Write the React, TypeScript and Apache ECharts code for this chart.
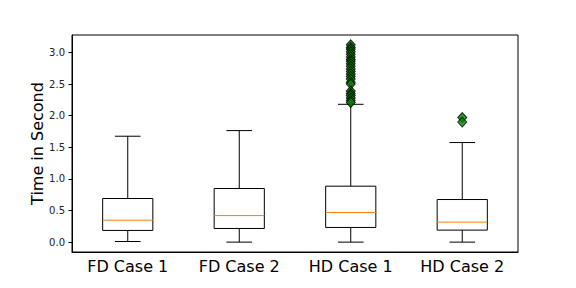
import React, { useEffect, useRef } from "react";
import * as echarts from "echarts";

const categories = ["FD Case 1", "FD Case 2", "HD Case 1", "HD Case 2"];
const whiskerLow = [0.01, 0.0, 0.0, 0.0];
const quartile1 = [0.185, 0.216, 0.232, 0.19];
const medians = [0.347, 0.42, 0.469, 0.316];
const quartile3 = [0.69, 0.848, 0.885, 0.674];
const whiskerHigh = [1.675, 1.764, 2.18, 1.575];
const outliersHD1 = [
  3.12, 3.08, 3.05, 3.01, 2.97, 2.93, 2.89, 2.86, 2.82, 2.78, 2.74, 2.7, 2.66,
  2.62, 2.58, 2.53, 2.5, 2.39, 2.35, 2.32, 2.28, 2.24, 2.21,
];
const outliersHD2 = [1.97, 1.9];
const yTicks = [0, 0.5, 1.0, 1.5, 2.0, 2.5, 3.0];

export default function App() {
  const ref = useRef<HTMLDivElement>(null);
  useEffect(() => {
    if (!ref.current) return;
    const chart = echarts.init(ref.current, undefined, { renderer: "svg" });
    const boxData = categories.map((_, i) => [
      i,
      whiskerLow[i],
      quartile1[i],
      medians[i],
      quartile3[i],
      whiskerHigh[i],
    ]);
    const outlierData = [
      ...outliersHD1.map((v) => [2, v]),
      ...outliersHD2.map((v) => [3, v]),
    ];
    const font = "DejaVu Sans";
    chart.setOption({
      animation: false,
      backgroundColor: "#ffffff",
      grid: {
        left: 72,
        right: 58,
        top: 35,
        bottom: 36,
        show: true,
        borderColor: "#000",
        borderWidth: 1,
        backgroundColor: "transparent",
      },
      xAxis: {
        type: "category",
        data: categories,
        boundaryGap: true,
        axisLine: { onZero: false, lineStyle: { color: "#000", width: 1 } },
        axisTick: { alignWithLabel: true, length: 3.5, lineStyle: { color: "#000" } },
        axisLabel: { color: "#000", fontSize: 16, fontFamily: font, margin: 6 },
        splitLine: { show: false },
      },
      yAxis: {
        type: "value",
        min: -0.156,
        max: 3.276,
        name: "Time in Second",
        nameLocation: "middle",
        nameGap: 27,
        nameMoveOverlap: false,
        nameTextStyle: { color: "#000", fontSize: 16, fontFamily: font },
        axisLine: { show: true, onZero: false, lineStyle: { color: "#000", width: 1 } },
        axisTick: { show: true, length: 3.5, customValues: yTicks, lineStyle: { color: "#000" } },
        axisLabel: {
          color: "#222",
          fontSize: 10,
          fontFamily: font,
          margin: 7,
          customValues: yTicks,
          formatter: (v: number) => v.toFixed(1),
        },
        splitLine: { show: false },
      },
      series: [
        {
          type: "custom",
          data: boxData,
          encode: { x: 0, y: [1, 2, 3, 4, 5] },
          renderItem: (params: any, api: any) => {
            const idx = api.value(0);
            const low = api.coord([idx, api.value(1)]);
            const q1 = api.coord([idx, api.value(2)]);
            const med = api.coord([idx, api.value(3)]);
            const q3 = api.coord([idx, api.value(4)]);
            const high = api.coord([idx, api.value(5)]);
            const bw = api.size([1, 0])[0];
            const hb = bw * 0.225;
            const hc = bw * 0.115;
            const cx = low[0];
            const ls = { stroke: "#000", lineWidth: 1 };
            return {
              type: "group",
              children: [
                { type: "line", shape: { x1: cx, y1: low[1], x2: cx, y2: q1[1] }, style: ls },
                { type: "line", shape: { x1: cx, y1: q3[1], x2: cx, y2: high[1] }, style: ls },
                { type: "line", shape: { x1: cx - hc, y1: low[1], x2: cx + hc, y2: low[1] }, style: ls },
                { type: "line", shape: { x1: cx - hc, y1: high[1], x2: cx + hc, y2: high[1] }, style: ls },
                {
                  type: "rect",
                  shape: { x: cx - hb, y: q3[1], width: hb * 2, height: q1[1] - q3[1] },
                  style: { fill: "none", stroke: "#000", lineWidth: 1 },
                },
                {
                  type: "line",
                  shape: { x1: cx - hb, y1: med[1], x2: cx + hb, y2: med[1] },
                  style: { stroke: "#ff7f0e", lineWidth: 1 },
                },
              ],
            };
          },
          z: 2,
        },
        {
          type: "scatter",
          data: outlierData,
          symbol: "diamond",
          symbolSize: [9, 10],
          itemStyle: { color: "#008000", borderColor: "#000", borderWidth: 1 },
          z: 3,
        },
      ],
    });
    return () => chart.dispose();
  }, []);
  return (
    <div
      ref={ref}
      style={{ position: "absolute", left: 0, top: 0, width: 576, height: 288 }}
    />
  );
}
